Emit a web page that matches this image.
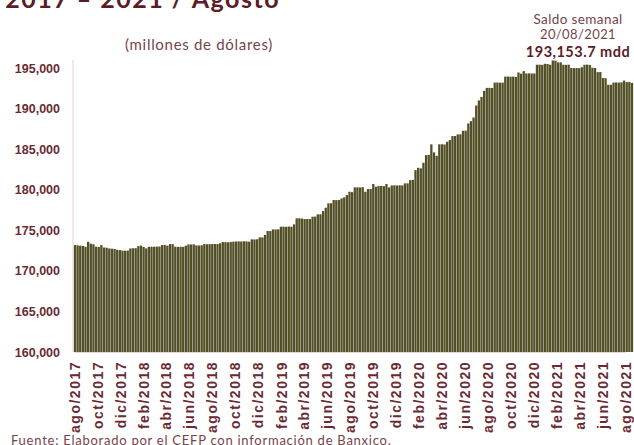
<!DOCTYPE html>
<html>
<head>
<meta charset="utf-8">
<script src="https://cdn.jsdelivr.net/npm/d3@7"></script>
<style>
  body { margin: 0; background: #fff; }
  svg { display: block; font-family: Lato, "Open Sans", sans-serif; }
</style>
</head>
<body>
<script>
const width = 634;
const height = 445;

// saldo semanal de reservas internacionales (millones de dólares), viernes a viernes
const firstWeek = "2017-08-04";
const lastWeek = "2021-08-20";

const saldoSemanal = [
  173180, 173150, 173100, 173080, 172970, 173590, 173350, 173280, 172980, 172950,
  173180, 172880, 172850, 172760, 172730, 172700, 172600, 172560, 172500, 172480,
  172500, 172760, 172780, 172800, 173050, 173120, 172950, 172770, 172960, 172980,
  172970, 172990, 173000, 173180, 173200, 173100, 173300, 173290, 172980, 172950,
  172970, 172960, 173100, 173260, 173250, 173270, 173140, 173130, 173150, 173300,
  173280, 173290, 173300, 173310, 173300, 173400, 173550, 173540, 173520, 173560,
  173600, 173620, 173630, 173620, 173640, 173630, 173600, 173880, 173870, 173890,
  174130, 174120, 174420, 174910, 174900, 175110, 175100, 175120, 175440, 175450,
  175430, 175460, 175440, 175730, 176470, 176480, 176450, 176380, 176390, 176380,
  176670, 176690, 176960, 176970, 177370, 177780, 178320, 178330, 178730, 178720,
  178740, 178930, 179060, 179340, 179750, 179700, 180290, 180300, 180280, 180310,
  179750, 180080, 180090, 180700, 180370, 180450, 180460, 180440, 180700, 180290,
  180530, 180540, 180520, 180550, 180530, 180780, 180790, 181190, 181200, 182420,
  182700, 182630, 183320, 184270, 184300, 185590, 184600, 184180, 185590, 185600,
  185580, 185910, 186120, 186610, 186620, 186820, 186830, 187270, 187280, 188160,
  188450, 188900, 190380, 191000, 191440, 192180, 192550, 192560, 192540, 193200,
  193210, 193190, 193200, 193940, 193950, 193930, 193940, 193900, 194450, 194300,
  194620, 194330, 194340, 194320, 194330, 195400, 195410, 195390, 195520, 195500,
  195400, 195930, 195920, 195690, 195700, 195400, 195390, 195410, 195000, 194990,
  195000, 194980, 195100, 195400, 195420, 195380, 195030, 195000, 194490, 194500,
  193760, 193750, 192930, 192940, 193210, 193220, 193200, 193230, 193450, 193270,
  193280, 193153.7
];

const yTicks = [160000, 165000, 170000, 175000, 180000, 185000, 190000, 195000];

const tickMonths = [
  "2017-08", "2017-10", "2017-12", "2018-02", "2018-04", "2018-06", "2018-08",
  "2018-10", "2018-12", "2019-02", "2019-04", "2019-06", "2019-08", "2019-10",
  "2019-12", "2020-02", "2020-04", "2020-06", "2020-08", "2020-10", "2020-12",
  "2021-02", "2021-04", "2021-06", "2021-08"
];
const tickLabels = [
  "ago/2017", "oct/2017", "dic/2017", "feb/2018", "abr/2018", "jun/2018", "ago/2018",
  "oct/2018", "dic/2018", "feb/2019", "abr/2019", "jun/2019", "ago/2019", "oct/2019",
  "dic/2019", "feb/2020", "abr/2020", "jun/2020", "ago/2020", "oct/2020", "dic/2020",
  "feb/2021", "abr/2021", "jun/2021", "ago/2021"
];

const titleText = "2017 – 2021 / Agosto";
const subtitleText = "(millones de dólares)";
const noteLines = ["Saldo semanal", "20/08/2021", "193,153.7 mdd"];
const sourceText = "Fuente: Elaborado por el CEFP con información de Banxico.";

const parseDay = d3.utcParse("%Y-%m-%d");
const parseMonth = d3.utcParse("%Y-%m");

const weeks = d3.utcDay.range(parseDay(firstWeek), d3.utcDay.offset(parseDay(lastWeek), 1), 7);
const dataset = weeks.map((d, i) => ({ date: d, value: saldoSemanal[i] }));

const maroon = "#6b2a32";
const barColor = "#524f27";
const axisColor = "#e9d2d2";

const svg = d3
  .select("body")
  .append("svg")
  .attr("width", width)
  .attr("height", height);

const xScale = d3
  .scaleUtc()
  .domain([parseMonth("2017-08"), parseMonth("2021-08")])
  .range([74, 625]);

const yScale = d3
  .scaleLinear()
  .domain([160000, 195000])
  .range([352, 68]);

const barW = xScale(d3.utcDay.offset(parseMonth("2017-08"), 7)) - xScale(parseMonth("2017-08"));

// barras
svg
  .append("g")
  .selectAll("rect")
  .data(dataset)
  .enter()
  .append("rect")
  .attr("x", (d) => xScale(d.date) - barW / 2)
  .attr("width", barW - 0.35)
  .attr("y", (d) => yScale(d.value))
  .attr("height", (d) => yScale(160000) - yScale(d.value))
  .style("fill", barColor);

// eje y
const yAxis = d3
  .axisLeft(yScale)
  .tickValues(yTicks)
  .tickSize(0)
  .tickPadding(13)
  .tickFormat(d3.format(",d"));

svg
  .append("g")
  .attr("transform", "translate(73,0)")
  .call(yAxis)
  .call((g) => g.select(".domain").remove())
  .selectAll("text")
  .style("font-size", "12.5px")
  .style("font-weight", "bold")
  .style("fill", maroon);

svg
  .append("line")
  .attr("x1", 73)
  .attr("x2", 73)
  .attr("y1", 60)
  .attr("y2", 352)
  .style("stroke", axisColor);

// eje x
const xAxis = d3
  .axisBottom(xScale)
  .tickValues(tickMonths.map(parseMonth))
  .tickSize(0)
  .tickFormat((d, i) => tickLabels[i]);

const gx = svg
  .append("g")
  .attr("transform", "translate(0,352)")
  .call(xAxis);

gx.select(".domain").style("stroke", axisColor);

gx.selectAll("text")
  .attr("transform", "rotate(-90)")
  .attr("text-anchor", "end")
  .attr("x", -9)
  .attr("y", 0)
  .attr("dy", "0.36em")
  .style("font-size", "14px")
  .style("font-weight", "bold")
  .style("letter-spacing", "1.5px")
  .style("fill", maroon);

// textos
svg
  .append("text")
  .attr("x", 280)
  .attr("y", 8)
  .attr("text-anchor", "end")
  .style("font-size", "25px")
  .style("font-weight", "bold")
  .style("letter-spacing", "1.5px")
  .style("fill", "#5b1c25")
  .text(titleText);

svg
  .append("text")
  .attr("x", 199)
  .attr("y", 50)
  .attr("text-anchor", "middle")
  .style("font-size", "15px")
  .style("letter-spacing", "0.7px")
  .style("fill", "#76434a")
  .text(subtitleText);

svg
  .append("text")
  .attr("x", 578)
  .attr("y", 24)
  .attr("text-anchor", "middle")
  .style("font-size", "13.5px")
  .style("letter-spacing", "0.4px")
  .style("fill", "#76434a")
  .text(noteLines[0]);

svg
  .append("text")
  .attr("x", 578)
  .attr("y", 39)
  .attr("text-anchor", "middle")
  .style("font-size", "13px")
  .style("letter-spacing", "0.4px")
  .style("fill", "#76434a")
  .text(noteLines[1]);

svg
  .append("text")
  .attr("x", 578)
  .attr("y", 57)
  .attr("text-anchor", "middle")
  .style("font-size", "14.5px")
  .style("font-weight", "bold")
  .style("letter-spacing", "0.5px")
  .style("fill", "#5b1c25")
  .text(noteLines[2]);

svg
  .append("text")
  .attr("x", 11)
  .attr("y", 445)
  .style("font-size", "13px")
  .style("letter-spacing", "0.75px")
  .style("fill", "#76434a")
  .text(sourceText);
</script>
</body>
</html>
